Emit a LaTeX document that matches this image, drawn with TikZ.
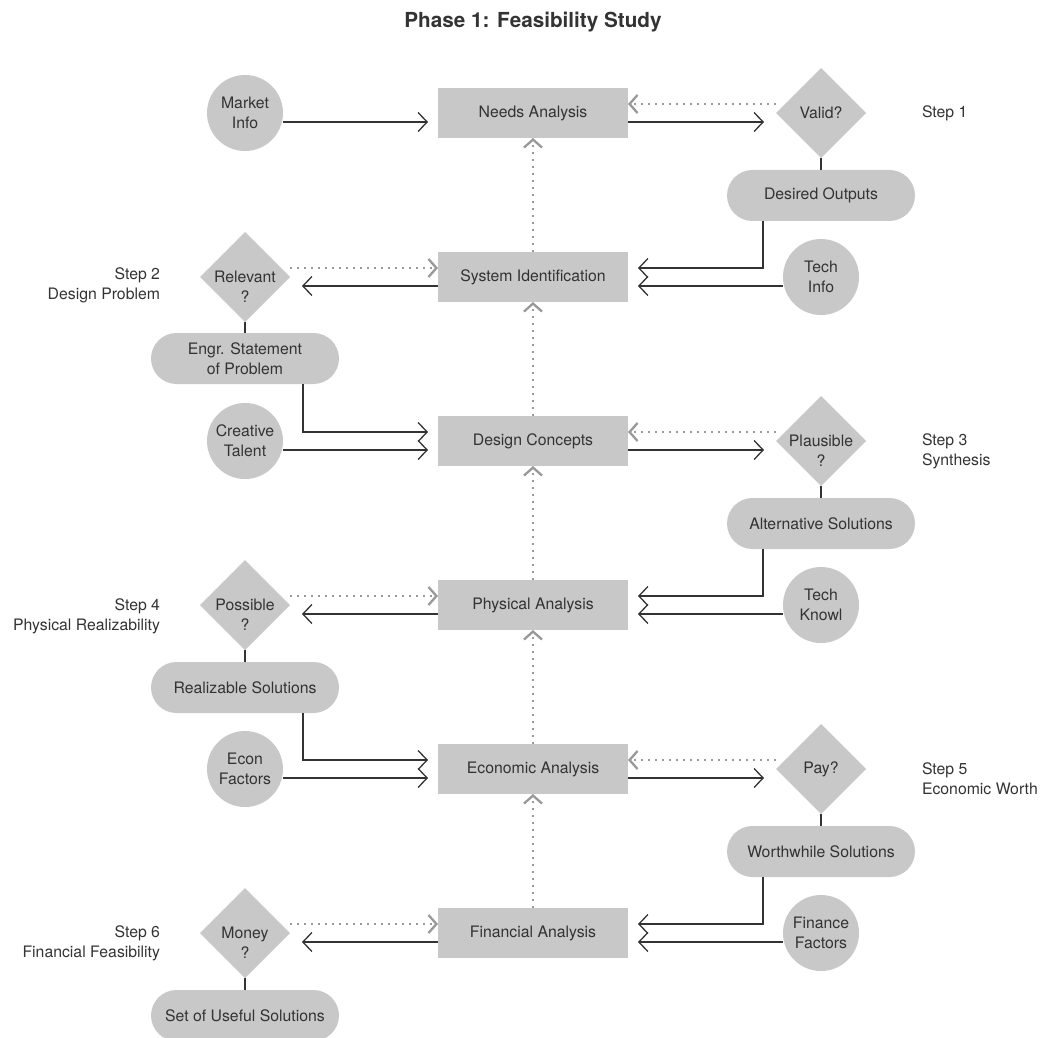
\documentclass[tikz,border=0pt]{standalone}
\usepackage{fontspec}
\setmainfont{TeX Gyre Heros}
\usetikzlibrary{shapes.geometric, arrows.meta, positioning}
\definecolor{boxgray}{HTML}{C8C8C9}
\definecolor{inkgray}{HTML}{333333}
\definecolor{dotgray}{HTML}{999999}
\newcommand{\lblfont}{\fontsize{15.8}{20}\selectfont}

\begin{document}
\begin{tikzpicture}[x=1pt, y=1pt, node distance=114pt and 148pt,
  every node/.style={text=inkgray, outer sep=0pt},
  box/.style={rectangle, fill=boxgray, minimum width=190pt, minimum height=50pt, font=\lblfont},
  dec/.style={diamond, fill=boxgray, minimum width=90pt, minimum height=90pt, inner sep=0pt},
  declab/.style={align=center, inner sep=0pt, font=\lblfont},
  pill/.style={rectangle, rounded corners=25.5pt, fill=boxgray, minimum width=188pt, minimum height=51pt, align=center, font=\lblfont},
  src/.style={circle, fill=boxgray, minimum size=76pt, inner sep=0pt, align=center, font=\lblfont},
  steptxt/.style={inner sep=0pt, font=\lblfont},
  flow/.style={draw=inkgray, line width=1.3pt, -{Straight Barb[length=9pt,width=19pt]}, shorten >=10pt},
  back/.style={draw=dotgray, line width=2.3pt, dash pattern=on 2pt off 5pt, -{Straight Barb[length=8pt,width=18pt]}},
  link/.style={draw=inkgray, line width=1.3pt}]
\useasboundingbox (0,0) rectangle (1045,-1038);
\node[font=\fontsize{20.7}{24}\selectfont\bfseries, anchor=base] (title) at (533,-28) {Phase 1: Feasibility Study};

% centre column
\node[box] (needs) at (533,-113) {Needs Analysis};
\node[box, below=of needs] (sysid) {System Identification};
\node[box, below=of sysid] (concept) {Design Concepts};
\node[box, below=of concept] (phys) {Physical Analysis};
\node[box, below=of phys] (econ) {Economic Analysis};
\node[box, below=of econ] (fin) {Financial Analysis};

% decisions
\node[dec, right=of needs, label={[declab]center:Valid?}] (valid) {};
\node[dec, left=of sysid, label={[declab, yshift=-10pt]center:Relevant\\?}] (relev) {};
\node[dec, right=of concept, label={[declab, yshift=-10pt]center:Plausible\\?}] (plaus) {};
\node[dec, left=of phys, label={[declab, yshift=-10pt]center:Possible\\?}] (possib) {};
\node[dec, right=of econ, label={[declab]center:Pay?}] (pay) {};
\node[dec, left=of fin, label={[declab, yshift=-10pt]center:Money\\?}] (money) {};

% outcomes
\node[pill, below=12pt of valid] (outputs) {Desired Outputs};
\node[pill, below=11pt of relev] (statement) {Engr. Statement\\of Problem};
\node[pill, below=12pt of plaus] (altsol) {Alternative Solutions};
\node[pill, below=12pt of possib] (realsol) {Realizable Solutions};
\node[pill, below=12pt of pay] (worthsol) {Worthwhile Solutions};
\node[pill, below=12pt of money] (usefulsol) {Set of Useful Solutions};

% inputs
\node[src, left=155pt of needs] (market) {Market\\Info};
\node[src, right=155pt of sysid] (techinfo) {Tech\\Info};
\node[src, left=155pt of concept] (talent) {Creative\\Talent};
\node[src, right=155pt of phys] (knowl) {Tech\\Knowl};
\node[src, left=155pt of econ] (econf) {Econ\\Factors};
\node[src, right=155pt of fin] (finf) {Finance\\Factors};

% step labels
\node[steptxt, right=56pt of valid, align=left] (step1) {Step 1};
\node[steptxt, left=40pt of relev, align=right, yshift=-8pt] (step2) {Step 2\\Design Problem};
\node[steptxt, right=56pt of plaus, align=left, yshift=-10pt] (step3) {Step 3\\Synthesis};
\node[steptxt, left=40pt of possib, align=right, yshift=-11pt] (step4) {Step 4\\Physical Realizability};
\node[steptxt, right=56pt of pay, align=left, yshift=-10pt] (step5) {Step 5\\Economic Worth};
\node[steptxt, left=40pt of money, align=right, yshift=-10pt] (step6) {Step 6\\Financial Feasibility};

% row 1
\draw[flow] ([yshift=-9pt]market.east) -- ([yshift=-9pt]needs.west);
\draw[flow, shorten >=12pt] ([yshift=-9pt]needs.east) -- ([yshift=-9pt]valid.west);
\draw[back] ([yshift=9pt]valid.west) -- ([yshift=9pt]needs.east);
\draw[link] (valid) -- (outputs);
\draw[back] (sysid) -- (needs);
% row 2
\draw[flow] ([xshift=-58pt]outputs.south) |- ([yshift=9pt]sysid.east);
\draw[flow] ([yshift=-9pt]techinfo.west) -- ([yshift=-9pt]sysid.east);
\draw[flow, shorten >=12pt] ([yshift=-9pt]sysid.west) -- ([yshift=-9pt]relev.east);
\draw[back] ([yshift=9pt]relev.east) -- ([yshift=9pt]sysid.west);
\draw[link] (relev) -- (statement);
\draw[back] (concept) -- (sysid);
% row 3
\draw[flow] ([xshift=58pt]statement.south) |- ([yshift=9pt]concept.west);
\draw[flow] ([yshift=-9pt]talent.east) -- ([yshift=-9pt]concept.west);
\draw[flow, shorten >=12pt] ([yshift=-9pt]concept.east) -- ([yshift=-9pt]plaus.west);
\draw[back] ([yshift=9pt]plaus.west) -- ([yshift=9pt]concept.east);
\draw[link] (plaus) -- (altsol);
\draw[back] (phys) -- (concept);
% row 4
\draw[flow] ([xshift=-58pt]altsol.south) |- ([yshift=9pt]phys.east);
\draw[flow] ([yshift=-9pt]knowl.west) -- ([yshift=-9pt]phys.east);
\draw[flow, shorten >=12pt] ([yshift=-9pt]phys.west) -- ([yshift=-9pt]possib.east);
\draw[back] ([yshift=9pt]possib.east) -- ([yshift=9pt]phys.west);
\draw[link] (possib) -- (realsol);
\draw[back] (econ) -- (phys);
% row 5
\draw[flow] ([xshift=58pt]realsol.south) |- ([yshift=9pt]econ.west);
\draw[flow] ([yshift=-9pt]econf.east) -- ([yshift=-9pt]econ.west);
\draw[flow, shorten >=12pt] ([yshift=-9pt]econ.east) -- ([yshift=-9pt]pay.west);
\draw[back] ([yshift=9pt]pay.west) -- ([yshift=9pt]econ.east);
\draw[link] (pay) -- (worthsol);
\draw[back] (fin) -- (econ);
% row 6
\draw[flow] ([xshift=-58pt]worthsol.south) |- ([yshift=9pt]fin.east);
\draw[flow] ([yshift=-9pt]finf.west) -- ([yshift=-9pt]fin.east);
\draw[flow, shorten >=12pt] ([yshift=-9pt]fin.west) -- ([yshift=-9pt]money.east);
\draw[back] ([yshift=9pt]money.east) -- ([yshift=9pt]fin.west);
\draw[link] (money) -- (usefulsol);
\end{tikzpicture}
\end{document}
